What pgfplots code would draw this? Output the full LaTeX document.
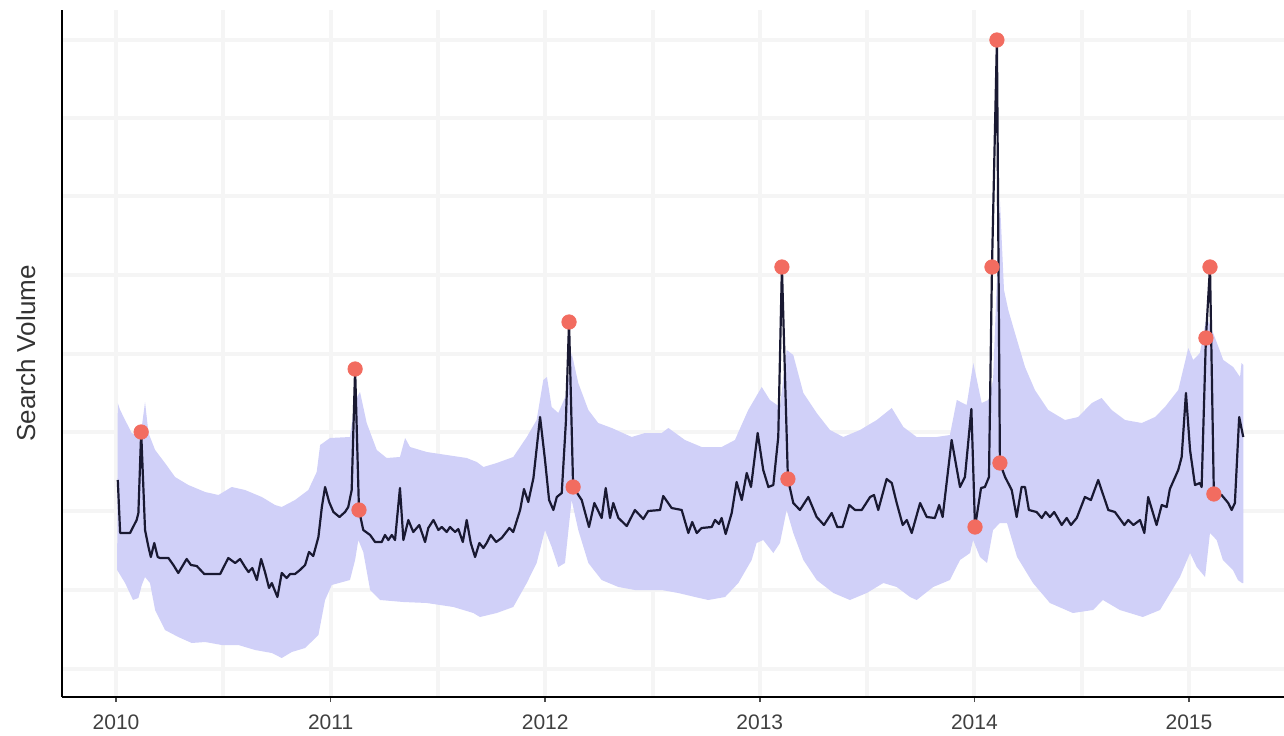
\documentclass[border=0pt]{standalone}
\usepackage{fontspec}
\setmainfont{Liberation Sans}
\usepackage{pgfplots}
\pgfplotsset{compat=1.18}
\usepgfplotslibrary{fillbetween}
\definecolor{band}{RGB}{208,208,248}
\definecolor{series}{RGB}{25,25,50}
\definecolor{pts}{RGB}{242,108,96}
\definecolor{gridc}{RGB}{245,245,245}
\begin{document}
\begin{tikzpicture}
\begin{axis}[
  scale only axis, width=611pt, height=343.5pt,
  at={(0,0)}, anchor=south west,
  xmin=2009.748, xmax=2015.443, ymin=0, ymax=687,
  axis lines*=left,
  axis line style={line width=1pt, black, -},
  xtick={2010,2011,2012,2013,2014,2015},
  xticklabels={2010,2011,2012,2013,2014,2015},
  minor xtick={2010.5,2011.5,2012.5,2013.5,2014.5},
  ytick={28,107,186,265,343,422,501,579,657},
  yticklabels={},
  major y tick style={draw=none},
  minor x tick style={draw=none},
  major x tick style={black!70, line width=0.8pt},
  tick align=outside, major tick length=2.6pt,
  grid=both,
  major grid style={gridc, line width=2pt},
  minor grid style={gridc, line width=2pt},
  xticklabel style={font=\fontsize{10.5pt}{12pt}\selectfont, text=black!75, yshift=-3pt},
  ylabel={Search Volume},
  every axis y label/.style={at={(axis description cs:-0.0295,0.5)}, rotate=90, anchor=center, font=\fontsize{13pt}{15pt}\selectfont, text=black!80},
  clip=false,
]
\addplot[name path=up, draw=none] coordinates {
(2010.008,294)(2010.019,287)(2010.042,277)(2010.073,264)(2010.104,260)(2010.121,272)(2010.135,295)(2010.151,264)(2010.182,247)(2010.228,234)(2010.275,220)(2010.337,212)(2010.415,205)(2010.477,202)(2010.539,210)(2010.601,207)(2010.679,200)(2010.741,192)(2010.772,190)(2010.834,197)(2010.896,207)(2010.935,225)(2010.951,252)(2010.997,259)(2011.090,260)(2011.114,297)(2011.137,305)(2011.168,274)(2011.215,247)(2011.261,239)(2011.323,240)(2011.347,259)(2011.370,250)(2011.448,245)(2011.541,242)(2011.634,239)(2011.681,235)(2011.712,230)(2011.774,234)(2011.851,240)(2011.914,260)(2011.960,277)(2011.991,317)(2012.008,320)(2012.030,290)(2012.061,284)(2012.097,302)(2012.123,344)(2012.154,314)(2012.201,287)(2012.247,274)(2012.310,269)(2012.403,260)(2012.465,264)(2012.543,264)(2012.574,269)(2012.651,257)(2012.729,250)(2012.822,250)(2012.884,257)(2012.946,287)(2013.009,310)(2013.047,297)(2013.094,290)(2013.125,347)(2013.156,342)(2013.203,304)(2013.265,284)(2013.327,267)(2013.389,260)(2013.467,267)(2013.545,277)(2013.615,289)(2013.669,270)(2013.731,260)(2013.824,260)(2013.886,262)(2013.918,297)(2013.964,292)(2013.995,334)(2014.034,294)(2014.065,297)(2014.087,317)(2014.119,497)(2014.138,407)(2014.158,387)(2014.189,364)(2014.236,330)(2014.282,307)(2014.344,287)(2014.422,277)(2014.484,280)(2014.547,294)(2014.593,299)(2014.640,287)(2014.702,277)(2014.780,274)(2014.842,280)(2014.888,290)(2014.950,307)(2014.997,349)(2015.020,337)(2015.051,344)(2015.082,380)(2015.113,364)(2015.160,337)(2015.206,330)(2015.238,320)(2015.245,334)(2015.253,332)
};
\addplot[name path=lo, draw=none] coordinates {
(2010.005,127)(2010.042,114)(2010.079,97)(2010.104,99)(2010.120,112)(2010.135,120)(2010.158,114)(2010.182,87)(2010.228,67)(2010.290,60)(2010.353,54)(2010.415,55)(2010.493,52)(2010.570,52)(2010.648,47)(2010.726,44)(2010.772,39)(2010.819,45)(2010.881,49)(2010.943,62)(2010.974,97)(2011.005,112)(2011.090,117)(2011.114,137)(2011.129,157)(2011.152,145)(2011.184,107)(2011.230,97)(2011.339,95)(2011.448,94)(2011.572,90)(2011.665,84)(2011.696,80)(2011.774,84)(2011.851,90)(2011.914,114)(2011.960,134)(2011.999,167)(2012.030,150)(2012.061,130)(2012.092,134)(2012.123,197)(2012.154,167)(2012.201,134)(2012.263,117)(2012.341,110)(2012.418,107)(2012.543,107)(2012.620,104)(2012.698,100)(2012.760,97)(2012.838,100)(2012.900,114)(2012.962,137)(2012.985,154)(2013.016,157)(2013.063,144)(2013.094,154)(2013.125,187)(2013.156,164)(2013.203,137)(2013.265,117)(2013.343,104)(2013.420,97)(2013.498,104)(2013.576,114)(2013.638,110)(2013.700,100)(2013.731,97)(2013.808,110)(2013.886,117)(2013.933,137)(2013.980,144)(2013.994,157)(2014.026,140)(2014.059,134)(2014.087,167)(2014.119,174)(2014.152,174)(2014.199,140)(2014.273,114)(2014.352,94)(2014.459,84)(2014.553,87)(2014.599,97)(2014.678,87)(2014.785,80)(2014.865,87)(2014.958,120)(2015.005,144)(2015.036,130)(2015.075,120)(2015.098,164)(2015.129,157)(2015.158,137)(2015.205,127)(2015.228,117)(2015.247,114)(2015.253,114)
};
\addplot[band, draw=none] fill between[of=up and lo];
\addplot[series, line width=1.1pt, line join=round] coordinates {
(2010.008,217)(2010.019,164)(2010.065,164)(2010.096,177)(2010.104,184)(2010.117,265)(2010.135,167)(2010.151,150)(2010.162,140)(2010.178,154)(2010.194,140)(2010.205,139)(2010.244,139)(2010.267,132)(2010.290,124)(2010.329,138)(2010.349,132)(2010.376,131)(2010.411,123)(2010.485,123)(2010.523,139)(2010.555,134)(2010.578,138)(2010.601,130)(2010.617,125)(2010.635,129)(2010.656,117)(2010.676,138)(2010.694,125)(2010.713,109)(2010.726,114)(2010.733,110)(2010.752,100)(2010.772,124)(2010.795,119)(2010.811,123)(2010.834,123)(2010.857,127)(2010.881,132)(2010.899,145)(2010.919,141)(2010.943,160)(2010.959,190)(2010.974,210)(2010.993,195)(2011.013,185)(2011.041,180)(2011.067,185)(2011.082,190)(2011.098,207)(2011.114,328)(2011.132,187)(2011.152,167)(2011.184,162)(2011.207,155)(2011.238,155)(2011.253,162)(2011.269,157)(2011.285,162)(2011.300,157)(2011.323,209)(2011.339,157)(2011.362,177)(2011.385,165)(2011.413,172)(2011.440,155)(2011.455,169)(2011.479,177)(2011.502,167)(2011.518,170)(2011.541,165)(2011.556,170)(2011.580,165)(2011.595,168)(2011.616,155)(2011.634,177)(2011.653,154)(2011.673,140)(2011.693,154)(2011.712,149)(2011.727,154)(2011.746,162)(2011.771,155)(2011.797,159)(2011.833,169)(2011.851,165)(2011.883,187)(2011.901,208)(2011.921,195)(2011.945,219)(2011.976,280)(2011.999,237)(2012.018,197)(2012.038,187)(2012.054,200)(2012.077,204)(2012.096,274)(2012.111,375)(2012.130,210)(2012.170,197)(2012.204,170)(2012.229,194)(2012.263,179)(2012.282,209)(2012.302,179)(2012.317,194)(2012.341,179)(2012.380,171)(2012.418,187)(2012.457,178)(2012.480,186)(2012.535,187)(2012.550,201)(2012.589,189)(2012.636,187)(2012.667,164)(2012.685,175)(2012.706,164)(2012.729,169)(2012.776,170)(2012.791,177)(2012.810,173)(2012.822,179)(2012.841,163)(2012.869,184)(2012.892,215)(2012.916,197)(2012.939,224)(2012.959,210)(2012.990,264)(2013.016,227)(2013.040,210)(2013.063,212)(2013.086,260)(2013.103,430)(2013.131,218)(2013.156,194)(2013.187,187)(2013.226,200)(2013.265,180)(2013.299,172)(2013.335,184)(2013.361,170)(2013.386,170)(2013.417,192)(2013.444,187)(2013.475,187)(2013.514,200)(2013.532,202)(2013.552,187)(2013.591,218)(2013.615,214)(2013.638,194)(2013.666,172)(2013.685,177)(2013.708,164)(2013.747,194)(2013.778,180)(2013.816,179)(2013.836,192)(2013.852,180)(2013.894,257)(2013.933,210)(2013.956,220)(2013.986,288)(2014.003,170)(2014.031,209)(2014.049,210)(2014.068,220)(2014.082,430)(2014.105,657)(2014.119,234)(2014.143,220)(2014.174,207)(2014.197,180)(2014.220,210)(2014.236,210)(2014.254,187)(2014.290,185)(2014.314,179)(2014.332,185)(2014.352,180)(2014.372,185)(2014.407,172)(2014.430,179)(2014.450,172)(2014.477,179)(2014.515,200)(2014.543,197)(2014.577,217)(2014.624,187)(2014.655,185)(2014.699,172)(2014.717,177)(2014.741,172)(2014.772,177)(2014.792,164)(2014.810,200)(2014.849,172)(2014.873,192)(2014.896,190)(2014.911,208)(2014.950,227)(2014.966,240)(2014.986,304)(2015.005,247)(2015.028,212)(2015.051,214)(2015.059,210)(2015.079,359)(2015.098,430)(2015.116,203)(2015.152,202)(2015.183,194)(2015.199,187)(2015.214,194)(2015.234,280)(2015.253,260)
};
\addplot[only marks, mark=*, mark size=3.6pt, pts, mark options={pts}] coordinates {
(2010.117,265)(2011.114,328)(2011.132,187)(2012.111,375)(2012.130,210)(2013.103,430)(2013.131,218)(2014.003,170)(2014.082,430)(2014.105,657)(2014.119,234)(2015.079,359)(2015.098,430)(2015.116,203)
};
\end{axis}
\pgfresetboundingbox
\path (-31pt,-19pt) rectangle (611pt,348.5pt);
\end{tikzpicture}
\end{document}
